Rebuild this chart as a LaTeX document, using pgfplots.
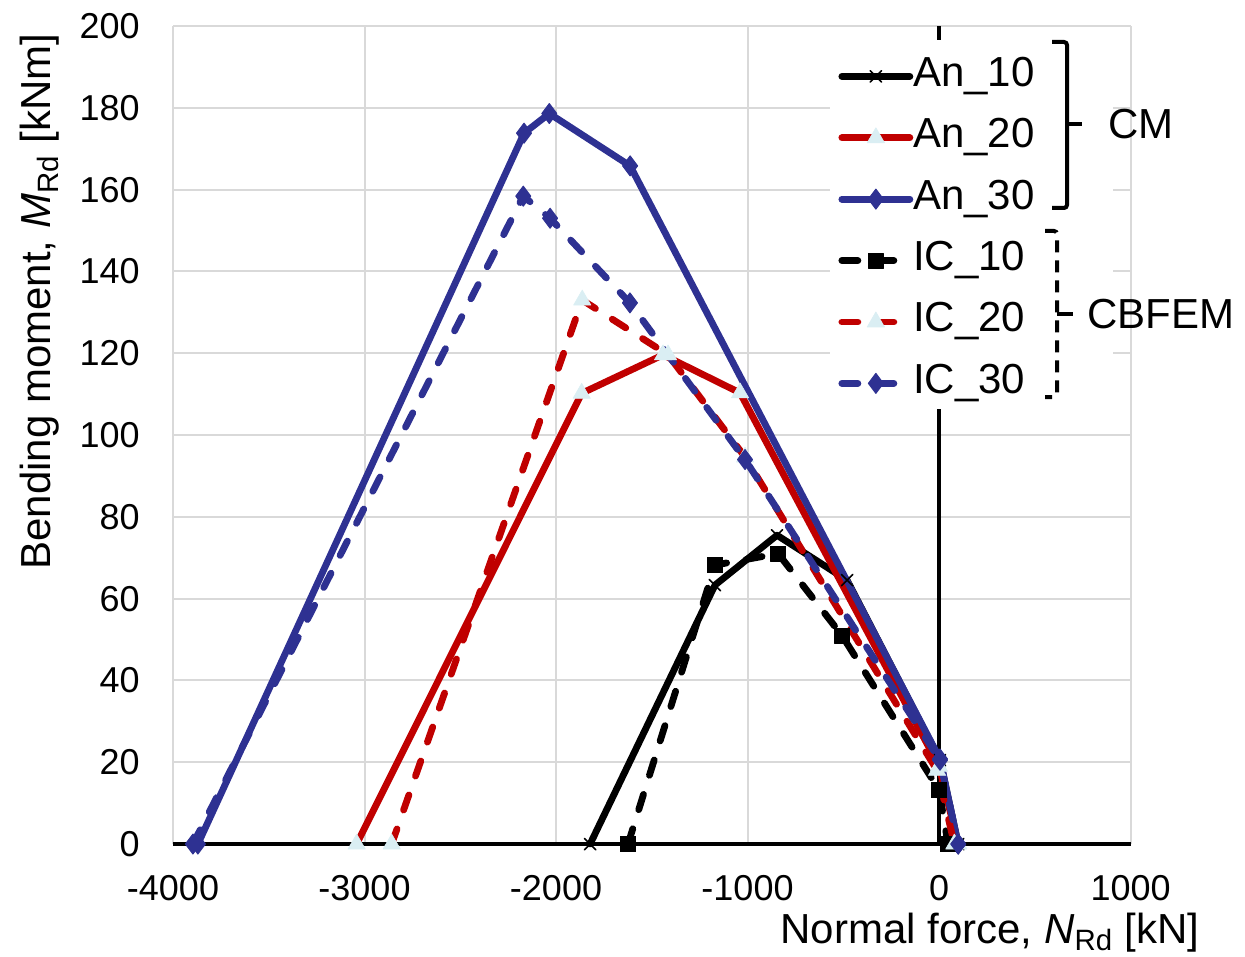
\documentclass[border=0pt]{standalone}
\usepackage{fontspec}
\setmainfont{Liberation Sans}
\usepackage{pgfplots}
\pgfplotsset{compat=1.18}
\definecolor{cred}{RGB}{192,0,0}
\definecolor{cblue}{RGB}{46,49,146}
\definecolor{ctri}{RGB}{218,238,243}
\definecolor{cgrid}{RGB}{217,217,217}
\begin{document}
\begin{tikzpicture}
\begin{axis}[
  at={(0,0)}, anchor=south west,
  scale only axis, width=478.75bp, height=409bp,
  xmin=-4000, xmax=1000, ymin=0, ymax=200,
  xtick={-4000,-3000,-2000,-1000,0,1000},
  xticklabels={-4000,-3000,-2000,-1000,0,1000},
  ytick={0,20,40,60,80,100,120,140,160,180,200},
  yticklabels={0,20,40,60,80,100,120,140,160,180,200},
  grid=major, major grid style={draw=cgrid, line width=1bp},
  axis line style={draw=none},
  major tick length=0pt, tick style={draw=none},
  xticklabel style={font=\fontsize{18bp}{21bp}\selectfont, anchor=north, inner sep=0pt, yshift=-15.5bp},
  yticklabel style={font=\fontsize{18bp}{21bp}\selectfont, anchor=east, inner sep=0pt, xshift=-16.5bp},
  clip=false,
  every axis plot/.append style={line width=3.4bp, line cap=round, line join=round},
  legend cell align=left,
  legend style={at={(0.6862,0.9805)}, anchor=north west, draw=none, fill=none,
    inner xsep=4bp, inner ysep=7bp, font=\fontsize{21bp}{25bp}\selectfont,
    row sep=10.7bp,
    nodes={inner sep=0pt, text height=15bp, text depth=5bp},
    /tikz/every odd column/.append style={column sep=0bp}},
  legend image code/.code={\draw[mark repeat=2,mark phase=2,#1] plot coordinates {(0bp,0bp) (17bp,0bp) (34bp,0bp)};},
]
\draw[black, line width=2bp] (axis cs:-4000,0) -- (axis cs:1000,0);
\draw[black, line width=1.6bp] (axis cs:0,0) -- (axis cs:0,200);
\fill[white] (axis cs:-569,196.6) rectangle (axis cs:909,106.4);

\addplot[black, mark=x, mark size=4bp, mark options={solid, line width=0.8bp}]
  coordinates {(-1822,0) (-1170,63.3) (-846,75.5) (-480,64.5) (5,20.5) (100,0)};
\addlegendentry{An\_10}
\addplot[cred, mark=triangle*, mark size=5bp, mark options={solid, fill=ctri, draw=ctri, line width=0.3bp}]
  coordinates {(-3041,0) (-1866,110.2) (-1441,119.6) (-1039,110.3) (0,19) (100,0)};
\addlegendentry{An\_20}
\addplot[cblue, mark=diamond*, mark size=5bp, mark options={solid, fill=cblue, line width=0.5bp}]
  coordinates {(-3870,0) (-2167,173.8) (-2035,178.6) (-1613,165.8) (5,20.8) (100,0)};
\addlegendentry{An\_30}
\addplot[black, dash pattern=on 8bp off 10bp, mark=square*, mark size=3.8bp, mark options={solid, fill=black, line width=0.3bp}]
  coordinates {(-1624,0) (-1170,68.2) (-840,71) (-507,51) (0,13.2) (47,0)};
\addlegendentry{IC\_10}
\addplot[cred, dash pattern=on 8bp off 10bp, mark=triangle*, mark size=5bp, mark options={solid, fill=ctri, draw=ctri, line width=0.3bp}]
  coordinates {(-2858,0) (-1863,133) (-1415,119.6) (-1013,94.6) (-10,18) (80,0)};
\addlegendentry{IC\_20}
\addplot[cblue, dash pattern=on 8bp off 10bp, mark=diamond*, mark size=5bp, mark options={solid, fill=cblue, line width=0.5bp}]
  coordinates {(-3896,0) (-2171,158.4) (-2031,153) (-1614,132.3) (-1013,94) (5,20.5) (100,0)};
\addlegendentry{IC\_30}
\end{axis}
\begin{scope}[x=0.5bp, y=-0.5bp, shift={(-86.5bp,422bp)}]
\path[use as bounding box] (0,0) rectangle (1245,956);
\draw[line width=2bp, rounded corners=1.5bp] (1052,42) -- (1067,42) -- (1067,208) -- (1052,208);
\draw[line width=2bp] (1067,124) -- (1082,124);
\node[anchor=west, inner sep=0pt, font=\fontsize{21bp}{25bp}\selectfont] at (1108,124) {CM};
\draw[line width=2bp, dash pattern=on 6bp off 4bp, rounded corners=1.5bp] (1045,231) -- (1057,231) -- (1057,397) -- (1045,397);
\draw[line width=2bp] (1057,314) -- (1073,314);
\node[anchor=west, inner sep=0pt, font=\fontsize{21bp}{25bp}\selectfont] at (1087,314) {CBFEM};
\node[anchor=base east, inner sep=0pt, font=\fontsize{21bp}{25bp}\selectfont] at (1200,943) {Normal force, \textit{N}\textsubscript{Rd} [kN]};
\node[rotate=90, anchor=base west, inner sep=0pt, font=\fontsize{21bp}{25bp}\selectfont] at (51,570) {Bending moment, \textit{M}\textsubscript{Rd} [kNm]};
\end{scope}
\end{tikzpicture}
\end{document}
